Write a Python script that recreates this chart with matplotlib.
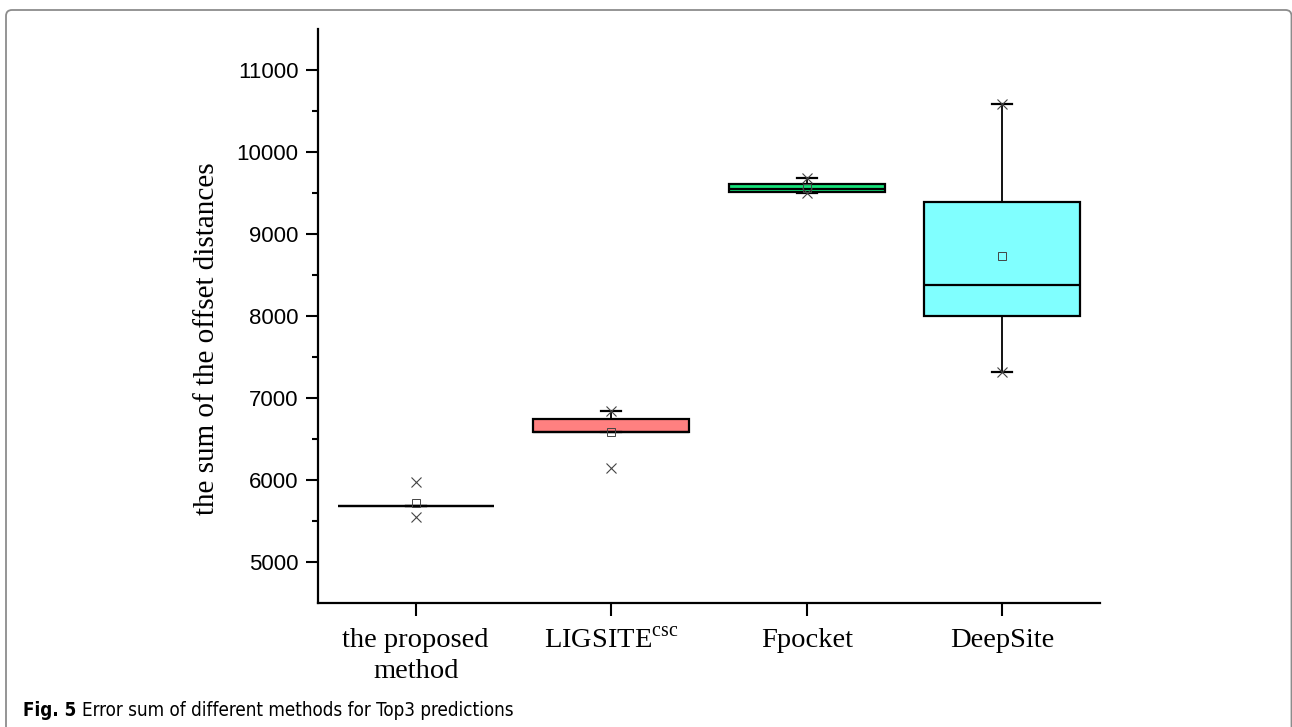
import matplotlib
matplotlib.use("Agg")
import matplotlib.pyplot as plt
from matplotlib.patches import FancyBboxPatch
from matplotlib.transforms import IdentityTransform

# ---- data ----
methods = ["the proposed\nmethod", "LIGSITE$^{\\mathrm{csc}}$", "Fpocket", "DeepSite"]
q1 = [5684, 6590, 9520, 8005]
med = [5684, 6590, 9550, 8385]
q3 = [5684, 6752, 9615, 9400]
whis_lo = [5684, 6590, 9500, 7315]
whis_hi = [5684, 6845, 9690, 10585]
means = [5724, 6588, 9570, 8740]
mins = [5553, 6155, 9500, 7315]
maxs = [5979, 6845, 9690, 10585]
box_colors = ["#FF8080", "#FF8080", "#16E07A", "#80FFFF"]
yticks = [5000, 6000, 7000, 8000, 9000, 10000, 11000]
yminor = [5500, 6500, 7500, 8500, 9500, 10500]

plt.rcParams['mathtext.fontset'] = 'custom'
plt.rcParams['mathtext.rm'] = 'Liberation Serif'

W, H = 1292, 727
fig = plt.figure(figsize=(W / 100, H / 100), dpi=100)
ax = fig.add_axes([318 / W, 1 - 603.3 / H, (1100 - 318) / W, (603.3 - 29.3) / H])

positions = list(range(1, len(methods) + 1))
stats = []
for i in range(len(methods)):
    stats.append(dict(med=med[i], q1=q1[i], q3=q3[i], whislo=whis_lo[i],
                      whishi=whis_hi[i], mean=means[i], fliers=[]))

bp = ax.bxp(stats, positions=positions, widths=0.8, capwidths=0.1,
            showmeans=False, showfliers=False, patch_artist=True,
            boxprops=dict(linewidth=1.6, edgecolor='black'),
            medianprops=dict(color='black', linewidth=1.6),
            whiskerprops=dict(color='black', linewidth=1.3),
            capprops=dict(color='black', linewidth=1.6))
for patch, c in zip(bp['boxes'], box_colors):
    patch.set_facecolor(c)

ax.plot(positions, mins, linestyle='none', marker='x', markersize=7.5,
        markeredgewidth=0.8, color='#444444', zorder=5)
ax.plot(positions, maxs, linestyle='none', marker='x', markersize=7.5,
        markeredgewidth=0.8, color='#444444', zorder=5)
ax.plot(positions, means, linestyle='none', marker='s', markersize=6,
        markerfacecolor='none', markeredgewidth=0.7, markeredgecolor='#444444', zorder=5)

ax.set_xlim(0.5, 4.5)
ax.set_ylim(4500, 11500)
ax.set_yticks(yticks)
ax.set_yticks(yminor, minor=True)
ax.set_xticks(positions)
ax.set_xticklabels(methods, fontsize=20.5, family='Liberation Serif', linespacing=1.3)
for lab in ax.get_yticklabels():
    lab.set_family('Liberation Sans')
    lab.set_fontsize(16)

ax.spines['top'].set_visible(False)
ax.spines['right'].set_visible(False)
ax.spines['left'].set_linewidth(1.6)
ax.spines['bottom'].set_linewidth(1.6)
ax.tick_params(axis='y', which='major', direction='out', length=9, width=1.5, pad=5)
ax.tick_params(axis='y', which='minor', direction='out', length=4, width=1.5)
ax.tick_params(axis='x', which='major', direction='out', length=9, width=1.5, pad=9)

fig.text(207 / W, 1 - 339 / H, "the sum of the offset distances", rotation=90,
         ha='center', va='center', fontsize=21, family='Liberation Serif')

# caption
fig.text(23 / W, 1 - 710 / H, "Fig. 5", ha='left', va='center', fontsize=13.5,
         fontweight='bold', family='DejaVu Sans', fontstretch='condensed')
fig.text(82 / W, 1 - 710 / H, "Error sum of different methods for Top3 predictions",
         ha='left', va='center', fontsize=13.5, family='DejaVu Sans', fontstretch='condensed')

frame = FancyBboxPatch((6, -60), 1285.5, H - 10 + 60, boxstyle="round,pad=0,rounding_size=6",
                       transform=IdentityTransform(), fill=False, edgecolor='#8c8c8c',
                       linewidth=1.3)
fig.patches.append(frame)

fig.savefig("out.png", dpi=100)
